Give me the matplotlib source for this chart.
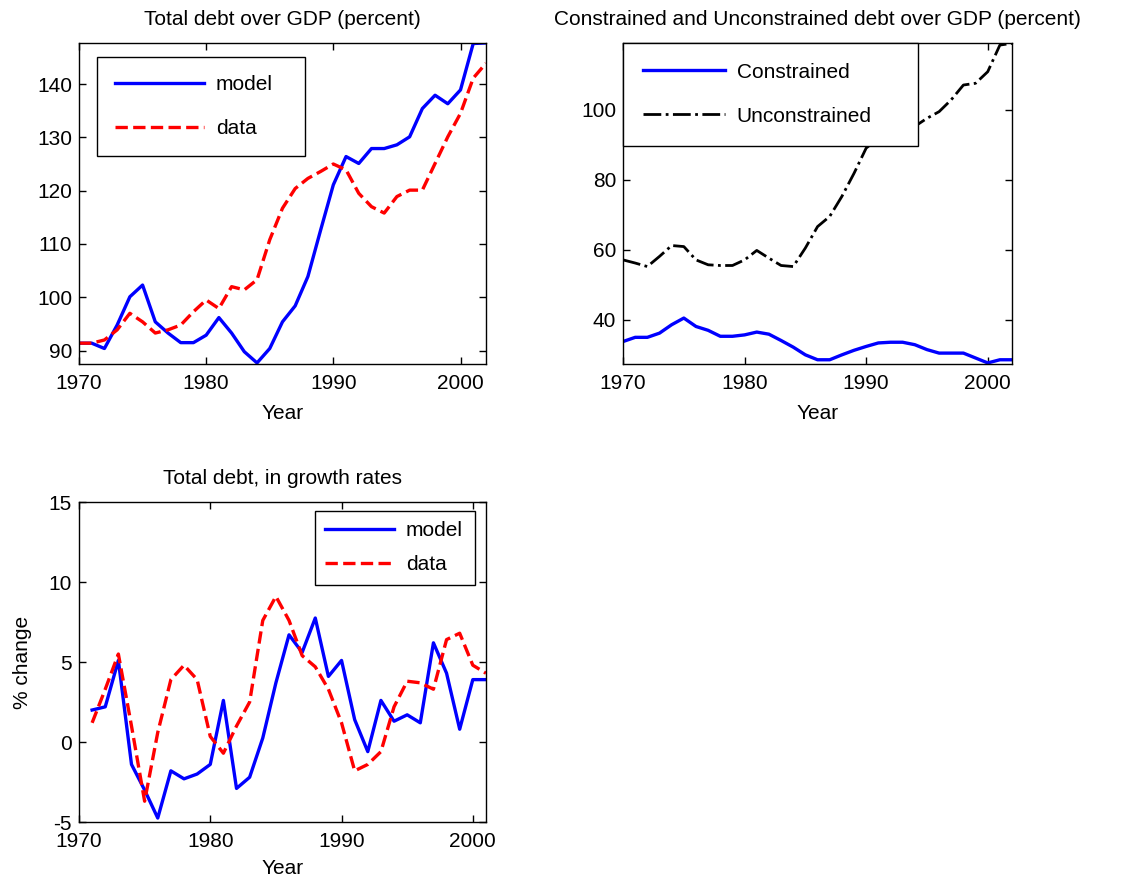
import matplotlib
matplotlib.use("Agg")
import matplotlib.pyplot as plt

plt.rcParams['font.family'] = ['Liberation Sans', 'DejaVu Sans']
plt.rcParams['axes.unicode_minus'] = False

# ---- data ----
anios = list(range(1970, 2003))
deuda_modelo = [91.4, 91.4, 90.4, 94.8, 100.1, 102.3, 95.4, 93.3, 91.5, 91.5,
                92.9, 96.2, 93.3, 89.8, 87.7, 90.4, 95.4, 98.4, 103.9, 112.6,
                121.1, 126.4, 125.1, 127.9, 127.9, 128.6, 130.1, 135.4, 137.9, 136.3,
                138.9, 147.6, 147.7]
deuda_datos = [91.4, 91.4, 92.0, 93.9, 97.0, 95.4, 93.3, 93.9, 94.8, 97.3,
               99.5, 97.9, 102.0, 101.4, 103.3, 110.8, 116.7, 120.4, 122.3, 123.6,
               125.0, 123.9, 119.5, 117.0, 115.8, 118.9, 120.1, 120.1, 125.1, 130.1,
               134.5, 141.1, 143.9]

restringida = [33.8, 35.0, 35.0, 36.2, 38.6, 40.5, 38.1, 37.0, 35.3, 35.3,
               35.7, 36.5, 35.9, 34.1, 32.2, 30.0, 28.6, 28.6, 30.0, 31.3,
               32.4, 33.4, 33.6, 33.6, 32.9, 31.5, 30.5, 30.5, 30.5, 29.1,
               27.7, 28.6, 28.6]
no_restringida = [57.1, 56.2, 55.2, 58.1, 61.2, 60.9, 57.1, 55.7, 55.5, 55.5,
                  57.1, 59.8, 57.6, 55.5, 55.2, 60.5, 66.6, 69.5, 75.2, 81.8,
                  89.0, 91.8, 92.8, 93.7, 95.2, 97.5, 99.4, 102.8, 107.0, 107.5,
                  110.8, 118.4, 118.9]

anios_crec = list(range(1971, 2002))
crec_modelo = [2.0, 2.2, 5.1, -1.4, -3.0, -4.75, -1.8, -2.3, -2.0, -1.4,
               2.6, -2.9, -2.2, 0.25, 3.7, 6.7, 5.6, 7.75, 4.1, 5.1,
               1.4, -0.6, 2.6, 1.3, 1.7, 1.2, 6.2, 4.3, 0.8, 3.9, 3.9]
crec_datos = [1.2, 3.3, 5.5, 1.0, -3.7, 0.6, 3.9, 4.8, 3.9, 0.35,
              -0.7, 1.0, 2.5, 7.6, 9.1, 7.6, 5.4, 4.7, 3.3, 1.2,
              -1.8, -1.4, -0.6, 2.2, 3.8, 3.7, 3.3, 6.4, 6.8, 4.8, 4.3]

anios_ticks = [1970, 1980, 1990, 2000]

fs = 15

def estilo(ax, lp=8):
    for s in ax.spines.values():
        s.set_linewidth(1.0)
    ax.tick_params(direction='in', top=True, right=True, length=5, width=1,
                   labelsize=fs, pad=7)
    ax.tick_params(axis='y', pad=5)
    ax.set_xticks(anios_ticks)
    ax.set_xlabel('Year', fontsize=fs, labelpad=lp)

def leyenda(ax, bbox, hl, ls, bp):
    leg = ax.legend(loc='upper left', bbox_to_anchor=bbox, mode='expand',
                    borderaxespad=0, fontsize=fs, handlelength=hl,
                    handletextpad=0.55, labelspacing=ls, borderpad=bp,
                    fancybox=False, framealpha=1, edgecolor='black')
    leg.get_frame().set_linewidth(1.0)

fig = plt.figure(figsize=(11.22, 8.86), dpi=100)

ax1 = fig.add_axes([0.0704, 0.5892, 0.3627, 0.3623])
ax1.plot(anios, deuda_modelo, '-', color='blue', lw=2.4, label='model')
ax1.plot(anios, deuda_datos, '--', color='red', lw=2.4, label='data')
ax1.set_xlim(1970, 2002)
ax1.set_ylim(87.5, 147.7)
ax1.set_yticks([90, 100, 110, 120, 130, 140])
ax1.set_title('Total debt over GDP (percent)', fontsize=fs, pad=13)
estilo(ax1)
leyenda(ax1, (0.044, 0.656, 0.511, 0.3), 4.3, 1.2, 0.85)

ax2 = fig.add_axes([0.5553, 0.5892, 0.3467, 0.3623])
ax2.plot(anios, restringida, '-', color='blue', lw=2.4, label='Constrained')
ax2.plot(anios, no_restringida, '-.', color='black', lw=2.0, label='Unconstrained')
ax2.set_xlim(1970, 2002)
ax2.set_ylim(27.4, 119)
ax2.set_yticks([40, 60, 80, 100])
ax2.set_title('Constrained and Unconstrained debt over GDP (percent)', fontsize=fs, pad=13)
estilo(ax2)
leyenda(ax2, (0.0, 0.7, 0.758, 0.3), 3.95, 1.2, 0.95)

ax3 = fig.add_axes([0.0704, 0.0722, 0.3627, 0.3612])
ax3.plot(anios_crec, crec_modelo, '-', color='blue', lw=2.4, label='model')
ax3.plot(anios_crec, crec_datos, '--', color='red', lw=2.4, label='data')
ax3.set_xlim(1970, 2001)
ax3.set_ylim(-5, 15)
ax3.set_yticks([-5, 0, 5, 10, 15])
ax3.set_title('Total debt, in growth rates', fontsize=fs, pad=13)
ax3.set_ylabel('% change', fontsize=fs, labelpad=12)
estilo(ax3, lp=6)
leyenda(ax3, (0.58, 0.75, 0.393, 0.222), 3.3, 0.72, 0.5)

fig.savefig('out.png', dpi=100)
